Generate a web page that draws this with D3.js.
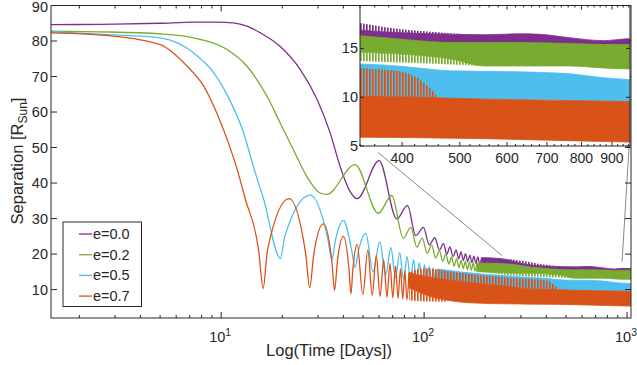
<!DOCTYPE html>
<html><head><meta charset="utf-8">
<script src="https://cdn.jsdelivr.net/npm/d3@7"></script>
<style>
body{margin:0;background:#fff}
svg{display:block}
text{font-family:"Liberation Sans",Arial,Helvetica,sans-serif;fill:#262626}
</style>
</head><body>
<svg id="chart" width="637" height="365"></svg>
<script>
// ---------------- data ----------------
const seriesNames = ["e=0.0", "e=0.2", "e=0.5", "e=0.7"];
const seriesColors = ["#7E2F8E", "#77AC30", "#4DBEEE", "#D95319"];

const xMajorTicks = [10, 100, 1000];
const xMajorExp = ["1", "2", "3"];
const yTicks = [10, 20, 30, 40, 50, 60, 70, 80, 90];
const insetXTicks = [400, 500, 600, 700, 800, 900];
const insetYTicks = [5, 10, 15];

// resolved part of each curve: time (days), separation (R_sun)
const t_e00 = [1.45, 2, 3, 5, 7.3, 9.5, 11.5, 13.5, 15.6, 19.5, 24.5, 29.7, 34.4, 38.6, 43.2, 46.8,
  60, 73.4, 82.8, 91, 99.2, 106, 113, 119, 124.5, 129.5, 134, 139, 143.8, 148, 152, 156, 160, 164, 168, 172, 176, 180, 184, 188, 192];
const v_e00 = [84.6, 84.65, 84.75, 85.0, 85.3, 85.3, 85.1, 84.1, 82.3, 78.5, 72.0, 63.5, 54.2, 44.6, 37.6, 35.6,
  46.3, 29.9, 33.7, 25.2, 27.5, 22.6, 24.6, 21.1, 23.0, 20.0, 22.0, 19.3, 21.2, 18.7, 20.6, 18.2, 20.1, 17.9, 19.7, 17.6, 19.4, 17.4, 19.2, 17.2, 19.0];

const t_e02 = [1.45, 2.5, 5, 7.3, 10.7, 13.4, 16.8, 19.5, 22.7, 26.4, 30.7, 33.1,
  45.7, 59.5, 69.3, 79, 86, 92, 98, 103.5, 109, 114, 119, 123.5, 128, 132.5, 136.5, 140.5, 144.5, 148.5, 152.3, 156, 159.8, 163.5, 167.2, 171, 174.6, 178.2, 181.8];
const v_e02 = [82.8, 82.6, 82.0, 80.9, 77.6, 72.9, 64.5, 57.0, 49.4, 41.9, 37.2, 36.8,
  45.2, 31.5, 36.5, 24.5, 27.5, 22.0, 24.5, 20.2, 22.5, 18.9, 21.0, 18.0, 20.0, 17.2, 19.2, 16.6, 18.7, 16.2, 18.3, 15.9, 18.0, 15.6, 17.8, 15.4, 17.6, 15.2, 17.5];

const t_e05 = [1.45, 2.8, 5.0, 7.3, 9.2, 11.0, 12.9, 14.4, 16.2, 19.6, 20.6,
  27.5, 33.6, 35.1, 36.6, 40.0, 44.0, 45.7, 47.5, 51.6, 56, 60.5, 64.6, 68.6, 72.3, 75.8, 79.2, 82.5, 85.7, 88.8, 91.8, 94.7, 97.6, 100.4, 103.1, 105.8, 108.4, 111, 113.6, 116.1];
const v_e05 = [82.6, 81.8, 80.9, 76.7, 71.0, 63.5, 54.1, 44.7, 35.4, 18.8, 25.0,
  36.6, 24.0, 18.5, 24.0, 29.5, 21.0, 16.2, 21.0, 25.8, 15.0, 23.5, 14.1, 21.8, 13.4, 20.4, 12.9, 19.3, 12.5, 18.4, 12.1, 17.6, 11.8, 17.0, 11.5, 16.5, 11.3, 16.1, 11.1, 15.8];

const t_e07 = [1.45, 2.8, 5.0, 6.8, 8.2, 9.5, 10.7, 12.0, 13.1, 15.3, 16.1, 16.9,
  21.6, 26.1, 27.3, 28.6, 31.9, 35.1, 36.2, 37.4, 40.0, 42.6, 43.6, 44.6, 46.8, 49.9, 52.8, 55.5, 58.1, 60.7, 63.2, 65.6, 67.9, 70.1, 72.3, 74.4, 76.5, 78.5, 80.4, 82.3, 84.2];
const v_e07 = [82.3, 81.5, 79.0, 72.9, 67.3, 59.8, 52.3, 43.8, 35.8, 21.0, 10.3, 21.0,
  35.6, 20.0, 10.5, 20.0, 28.5, 18.0, 9.8, 18.0, 25.0, 16.0, 8.8, 16.0, 22.7, 8.6, 21.2, 8.4, 19.6, 8.1, 18.4, 7.9, 17.4, 7.7, 16.6, 7.5, 15.9, 7.3, 15.3, 7.1, 14.8];

// unresolved (dense) part: time, upper envelope, lower envelope
const bt_e00 = [192, 220, 260, 300, 340, 373, 425, 484, 551, 628, 680, 764, 871, 966, 1046];
const bh_e00 = [19.0, 18.9, 18.4, 17.4, 16.9, 16.7, 16.55, 16.45, 16.4, 16.5, 16.45, 16.1, 15.8, 16.0, 15.9];
const bl_e00 = [17.1, 16.8, 16.4, 16.0, 15.5, 15.4, 15.3, 15.3, 15.3, 15.3, 15.3, 15.3, 15.2, 15.2, 15.2];
// sparse peaks above the dense band
const ct_e00 = [260, 300, 340, 373, 425, 484, 551, 600];
const ch_e00 = [18.6, 18.1, 17.6, 17.2, 16.8, 16.55, 16.4, 16.4];

const bt_e02 = [181.8, 220, 260, 300, 340, 373, 425, 484, 551, 628, 764, 871, 966, 1046];
const bh_e02 = [17.5, 17.4, 17.2, 16.8, 16.3, 16.1, 15.8, 15.6, 15.6, 15.6, 15.5, 15.4, 15.4, 15.4];
const bl_e02 = [15.1, 14.8, 14.7, 14.6, 14.6, 14.5, 14.3, 13.9, 13.2, 13.2, 13.2, 13.0, 12.9, 12.9];
// sparse troughs below the dense band
const ct_e02 = [181.8, 220, 260, 300, 340, 373, 425, 484, 551];
const ch_e02 = [15.1, 14.6, 14.1, 13.8, 13.7, 13.6, 13.5, 13.35, 13.2];

const bt_e05 = [116.1, 150, 200, 256, 340, 373, 425, 484, 628, 764, 871, 966, 1046];
const bh_e05 = [15.8, 15.0, 14.3, 13.9, 13.4, 13.3, 13.0, 12.7, 12.6, 12.4, 12.0, 11.8, 11.7];
const bl_e05 = [11.0, 10.6, 10.2, 10.0, 9.9, 9.9, 9.85, 9.8, 9.8, 9.7, 9.6, 9.55, 9.5];

const bt_e07 = [84.2, 100, 130, 180, 250, 340, 425, 551, 700, 966, 1046];
const bh_e07 = [14.8, 13.8, 12.8, 11.8, 11.0, 10.1, 10.0, 9.8, 9.7, 9.55, 9.5];
const bl_e07 = [10.5, 8.6, 7.0, 6.2, 6.0, 5.9, 5.85, 5.75, 5.6, 5.4, 5.35];
// sparse high spikes above the dense band
const ct_e07 = [84.2, 100, 130, 180, 250, 340, 400, 435, 460];
const ch_e07 = [14.8, 16.0, 15.2, 14.2, 13.5, 13.0, 12.6, 11.5, 10.0];
// sparse deep minima below the dense band
const ct2_e07 = [84.2, 100, 130];
const ch2_e07 = [7.0, 6.7, 6.6];

// zoom connector lines (time, separation) endpoints
const connA = [[59.3, 48.6], [242, 19.6]];
const connB = [[1023, 50.0], [945, 17.9]];

// ---------------- chart ----------------
const svg = d3.select("#chart");
const M = {l: 51, r: 631, t: 5.5, b: 318};
const x = d3.scaleLog().domain([1.45, 1046]).range([M.l, M.r]);
const y = d3.scaleLinear().domain([2, 90]).range([M.b, M.t]);
const IN = {l: 360, r: 630, t: 5.5, b: 146};
const xi = d3.scaleLog().domain([340, 965]).range([IN.l, IN.r]);
const yi = d3.scaleLinear().domain([5, 19.4]).range([IN.b, IN.t]);
const AX = "#262626";

const defs = svg.append("defs");
defs.append("clipPath").attr("id", "clipMain").append("rect")
  .attr("x", M.l).attr("y", M.t).attr("width", M.r - M.l).attr("height", M.b - M.t);
defs.append("clipPath").attr("id", "clipInset").append("rect")
  .attr("x", IN.l).attr("y", IN.t).attr("width", IN.r - IN.l).attr("height", IN.b - IN.t);
seriesColors.forEach((c, i) => {
  const p = defs.append("pattern").attr("id", "stripe" + i).attr("patternUnits", "userSpaceOnUse")
    .attr("width", 3).attr("height", 10);
  p.append("rect").attr("width", 1.7).attr("height", 10).attr("fill", c);
});

const series = [
  {t: t_e00, v: v_e00, bt: bt_e00, bh: bh_e00, bl: bl_e00, combs: [{t: ct_e00, h: ch_e00, top: true}]},
  {t: t_e02, v: v_e02, bt: bt_e02, bh: bh_e02, bl: bl_e02, combs: [{t: ct_e02, h: ch_e02, top: false}]},
  {t: t_e05, v: v_e05, bt: bt_e05, bh: bh_e05, bl: bl_e05, combs: []},
  {t: t_e07, v: v_e07, bt: bt_e07, bh: bh_e07, bl: bl_e07,
   combs: [{t: ct_e07, h: ch_e07, top: true}, {t: ct2_e07, h: ch2_e07, top: false}]}
];

function drawSeries(g, sx, sy) {
  series.forEach((s, i) => {
    const col = seriesColors[i];
    const pts = s.t.map((t, k) => [t, s.v[k]]);
    g.append("path").datum(pts)
      .attr("fill", "none").attr("stroke", col).attr("stroke-width", 1.3)
      .attr("d", d3.line().x(d => sx(d[0])).y(d => sy(d[1])).curve(d3.curveMonotoneX));
    const band = s.bt.map((t, k) => [t, s.bh[k], s.bl[k]]);
    g.append("path").datum(band)
      .attr("fill", col).attr("stroke", col).attr("stroke-width", 0.8)
      .attr("d", d3.area().x(d => sx(d[0])).y0(d => sy(d[2])).y1(d => sy(d[1])).curve(d3.curveMonotoneX));
    s.combs.forEach(cb => {
      const edge = d3.scaleLinear().domain(s.bt).range(cb.top ? s.bh : s.bl);
      const comb = cb.t.map((t, k) => [t, cb.h[k]]);
      g.append("path").datum(comb)
        .attr("fill", "url(#stripe" + i + ")").attr("stroke", "none")
        .attr("d", d3.area().x(d => sx(d[0])).y0(d => sy(edge(d[0]))).y1(d => sy(d[1])).curve(d3.curveMonotoneX));
    });
  });
}

// main plot series
const gMain = svg.append("g").attr("clip-path", "url(#clipMain)");
drawSeries(gMain, x, y);

// connector lines
[connA, connB].forEach(c => {
  svg.append("line")
    .attr("x1", x(c[0][0])).attr("y1", y(c[0][1]))
    .attr("x2", x(c[1][0])).attr("y2", y(c[1][1]))
    .attr("stroke", "#7a7a7a").attr("stroke-width", 0.9);
});

// main axes box
svg.append("rect").attr("x", M.l).attr("y", M.t).attr("width", M.r - M.l).attr("height", M.b - M.t)
  .attr("fill", "none").attr("stroke", AX).attr("stroke-width", 1);

// x ticks (log)
const minorX = [];
[1, 10, 100].forEach(dec => { for (let k = 2; k <= 9; k++) { const v = dec * k; if (v > 1.45 && v < 1046) minorX.push(v); } });
const gT = svg.append("g").attr("stroke", AX).attr("stroke-width", 1);
minorX.forEach(v => {
  const px = x(v);
  gT.append("line").attr("x1", px).attr("x2", px).attr("y1", M.b).attr("y2", M.b - 3);
  gT.append("line").attr("x1", px).attr("x2", px).attr("y1", M.t).attr("y2", M.t + 3);
});
xMajorTicks.forEach((v, i) => {
  const px = x(v);
  gT.append("line").attr("x1", px).attr("x2", px).attr("y1", M.b).attr("y2", M.b - 6);
  gT.append("line").attr("x1", px).attr("x2", px).attr("y1", M.t).attr("y2", M.t + 6);
  const tx = svg.append("text").attr("x", px - 1).attr("y", 342).attr("text-anchor", "middle").style("font-size", "14.5px");
  tx.append("tspan").text("10");
  tx.append("tspan").attr("dy", -6).style("font-size", "10.5px").text(xMajorExp[i]);
});
// y ticks
yTicks.forEach(v => {
  const py = y(v);
  gT.append("line").attr("x1", M.l).attr("x2", M.l + 6).attr("y1", py).attr("y2", py);
  gT.append("line").attr("x1", M.r).attr("x2", M.r - 6).attr("y1", py).attr("y2", py);
  svg.append("text").attr("x", 48).attr("y", Math.max(py + 5, 12)).attr("text-anchor", "end").style("font-size", "14.5px").text(v);
});

// axis labels
svg.append("text").attr("x", 329).attr("y", 356).attr("text-anchor", "middle").style("font-size", "16.5px").text("Log(Time [Days])");
const yl = svg.append("text").attr("transform", "translate(23,161) rotate(-90)").attr("text-anchor", "middle").style("font-size", "16.5px");
yl.append("tspan").text("Separation [R");
yl.append("tspan").attr("dy", 4).style("font-size", "12px").text("Sun");
yl.append("tspan").attr("dy", -4).text("]");

// legend
const LG = {x: 63, y: 222, w: 78.5, h: 84.5};
svg.append("rect").attr("x", LG.x).attr("y", LG.y).attr("width", LG.w).attr("height", LG.h)
  .attr("fill", "#fff").attr("stroke", AX).attr("stroke-width", 1);
seriesNames.forEach((n, i) => {
  const cy = 234 + i * 20.7;
  svg.append("line").attr("x1", 79).attr("x2", 92).attr("y1", cy).attr("y2", cy)
    .attr("stroke", seriesColors[i]).attr("stroke-width", 1.3);
  svg.append("text").attr("x", 93).attr("y", cy + 5).style("font-size", "14.5px").text(n);
});

// ---------------- inset ----------------
svg.append("rect").attr("x", IN.l).attr("y", IN.t).attr("width", IN.r - IN.l).attr("height", IN.b - IN.t).attr("fill", "#fff");
const gIn = svg.append("g").attr("clip-path", "url(#clipInset)");
drawSeries(gIn, xi, yi);
svg.append("rect").attr("x", IN.l).attr("y", IN.t).attr("width", IN.r - IN.l).attr("height", IN.b - IN.t)
  .attr("fill", "none").attr("stroke", AX).attr("stroke-width", 1);
const gTi = svg.append("g").attr("stroke", AX).attr("stroke-width", 1);
const insetMinor = d3.range(340, 965, 20).filter(v => insetXTicks.indexOf(v) < 0);
insetMinor.forEach(v => {
  const px = xi(v);
  gTi.append("line").attr("x1", px).attr("x2", px).attr("y1", IN.b).attr("y2", IN.b - 2);
  gTi.append("line").attr("x1", px).attr("x2", px).attr("y1", IN.t).attr("y2", IN.t + 2);
});
insetXTicks.forEach(v => {
  const px = xi(v);
  gTi.append("line").attr("x1", px).attr("x2", px).attr("y1", IN.b).attr("y2", IN.b - 4);
  gTi.append("line").attr("x1", px).attr("x2", px).attr("y1", IN.t).attr("y2", IN.t + 4);
  svg.append("text").attr("x", px).attr("y", 163).attr("text-anchor", "middle").style("font-size", "14px").text(v);
});
insetYTicks.forEach(v => {
  const py = yi(v);
  gTi.append("line").attr("x1", IN.l).attr("x2", IN.l + 4).attr("y1", py).attr("y2", py);
  gTi.append("line").attr("x1", IN.r).attr("x2", IN.r - 4).attr("y1", py).attr("y2", py);
  svg.append("text").attr("x", 358).attr("y", py + 5).attr("text-anchor", "end").style("font-size", "14.5px").text(v);
});
</script>
</body></html>
